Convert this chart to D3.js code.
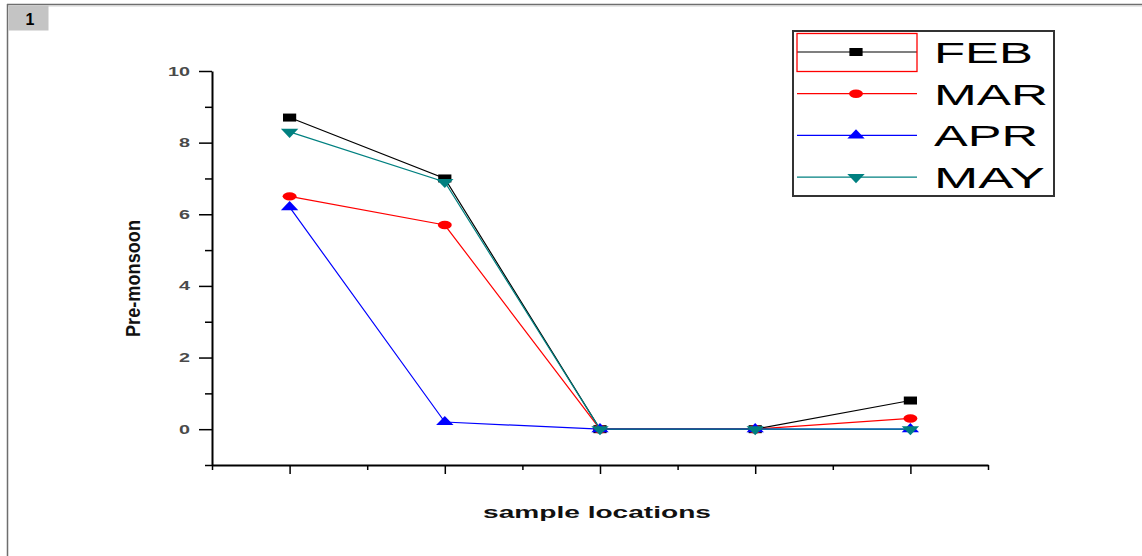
<!DOCTYPE html>
<html>
<head>
<meta charset="utf-8">
<script src="https://cdn.jsdelivr.net/npm/d3@7"></script>
<style>
  html, body { margin: 0; padding: 0; background: #fff; }
  svg { display: block; font-family: Arial, "Liberation Sans", sans-serif; }
</style>
</head>
<body>
<svg id="chart" width="1142" height="556"></svg>
<script>
// Sample locations along the x axis (unlabelled positions)
const locations = [1, 2, 3, 4, 5];

// Monthly pre-monsoon readings per location
const feb = [8.7, 7.0, 0, 0, 0.8];
const mar = [6.5, 5.7, 0, 0, 0.3];
const apr = [6.2, 0.2, 0, 0, 0];
const may = [8.3, 6.9, 0, 0, 0];

const seriesNames = ["FEB", "MAR", "APR", "MAY"];

// Axis ticks
const yMajorTicks = [0, 2, 4, 6, 8, 10];
const yMinorTicks = [-1, 1, 3, 5, 7, 9];
const xMajorTicks = [1, 2, 3, 4, 5];
const xMinorTicks = [0.5, 1.5, 2.5, 3.5, 4.5, 5.5];

const series = [
  { name: seriesNames[0], values: feb, color: "#000000", symbol: d3.symbolSquare, size: 64 },
  { name: seriesNames[1], values: mar, color: "#ff0000", symbol: d3.symbolCircle, size: 56 },
  { name: seriesNames[2], values: apr, color: "#0000ff", symbol: d3.symbolTriangle, size: 48 },
  { name: seriesNames[3], values: may, color: "#008080", symbol: "triangleDown", size: 48 }
];

const svg = d3.select("#chart");

// Page frame and the panel number tab
svg.append("line").attr("x1", 7).attr("x2", 1142).attr("y1", 4.5).attr("y2", 4.5)
  .attr("stroke", "#6e6e6e").attr("stroke-width", 1.5);
svg.append("line").attr("x1", 8).attr("x2", 1142).attr("y1", 6).attr("y2", 6)
  .attr("stroke", "#d0d0d0").attr("stroke-width", 1);
svg.append("line").attr("x1", 7.5).attr("x2", 7.5).attr("y1", 4).attr("y2", 556)
  .attr("stroke", "#6e6e6e").attr("stroke-width", 1.5);
svg.append("rect").attr("x", 8.5).attr("y", 5.5).attr("width", 40).attr("height", 25)
  .attr("fill", "#c4c4c4");
svg.append("text").attr("x", 30).attr("y", 25).attr("text-anchor", "middle")
  .attr("font-size", 16).attr("font-weight", "bold").attr("fill", "#000").text("1");

// Scales
const x = d3.scaleLinear().domain([0.5, 5.5]).range([212, 988]);
const y = d3.scaleLinear().domain([-1, 10]).range([465, 71]);

// Y axis
const yAxisG = svg.append("g").attr("transform", "translate(212,0)");
yAxisG.call(d3.axisLeft(y).tickValues(yMajorTicks).tickSize(13).tickSizeOuter(0).tickPadding(9));
const yMinorG = svg.append("g").attr("transform", "translate(212,0)");
yMinorG.call(d3.axisLeft(y).tickValues(yMinorTicks).tickSize(7).tickSizeOuter(0).tickFormat(""));
yMinorG.select(".domain").remove();

// X axis
const xAxisG = svg.append("g").attr("transform", "translate(0,465)");
xAxisG.call(d3.axisBottom(x).tickValues(xMajorTicks).tickSize(9).tickSizeOuter(0).tickFormat(""));
const xMinorG = svg.append("g").attr("transform", "translate(0,465)");
xMinorG.call(d3.axisBottom(x).tickValues(xMinorTicks).tickSize(5).tickSizeOuter(0).tickFormat(""));
xMinorG.select(".domain").remove();

svg.selectAll(".domain").attr("stroke", "#000").attr("stroke-width", 2);
svg.selectAll(".tick line").attr("stroke", "#000").attr("stroke-width", 1.5);
yAxisG.selectAll(".tick text")
  .attr("font-size", 12.5)
  .attr("font-weight", "bold")
  .attr("fill", "#4a4a4a")
  .attr("font-family", "Arial, 'Liberation Sans', sans-serif")
  .each(function () {
    const t = d3.select(this);
    t.attr("textLength", t.text().length * 11).attr("lengthAdjust", "spacingAndGlyphs");
  });

// Axis titles
svg.append("text")
  .attr("transform", "translate(140,278.5) rotate(-90) scale(1,1.4)")
  .attr("text-anchor", "middle")
  .attr("font-size", 15).attr("font-weight", "bold").attr("fill", "#111")
  .attr("textLength", 117).attr("lengthAdjust", "spacingAndGlyphs")
  .text("Pre-monsoon");
svg.append("text")
  .attr("x", 597).attr("y", 518)
  .attr("text-anchor", "middle")
  .attr("font-size", 16.5).attr("font-weight", "bold").attr("fill", "#111")
  .attr("textLength", 228).attr("lengthAdjust", "spacingAndGlyphs")
  .text("sample locations");

// Marker path builder (markers are drawn slightly wider than tall)
function markerPath(s) {
  if (s.symbol === "triangleDown") {
    return d3.symbol().type(d3.symbolTriangle).size(s.size)();
  }
  return d3.symbol().type(s.symbol).size(s.size)();
}
function markerTransform(s, px, py) {
  const flip = s.symbol === "triangleDown" ? " scale(1,-1)" : "";
  return `translate(${px},${py}) scale(1.65,1)${flip}`;
}

// Lines and markers
const line = d3.line().x((d, i) => x(locations[i])).y(d => y(d));
const plot = svg.append("g");
series.forEach(s => {
  const g = plot.append("g");
  g.append("path").datum(s.values)
    .attr("d", line).attr("fill", "none")
    .attr("stroke", s.color).attr("stroke-width", 1.2);
  g.selectAll("path.marker").data(s.values).enter().append("path")
    .attr("class", "marker")
    .attr("d", markerPath(s))
    .attr("transform", (d, i) => markerTransform(s, x(locations[i]), y(d)))
    .attr("fill", s.color);
});

// Legend
const legend = svg.append("g");
legend.append("rect").attr("x", 793).attr("y", 31).attr("width", 261).attr("height", 165)
  .attr("fill", "#fff").attr("stroke", "#333").attr("stroke-width", 2);
const legendTextWidths = [99, 114, 104, 111];
series.forEach((s, i) => {
  const ly = 52 + i * 41.7;
  legend.append("line").attr("x1", 797).attr("x2", 917).attr("y1", ly).attr("y2", ly)
    .attr("stroke", s.color).attr("stroke-width", 1.2);
  legend.append("path").attr("d", markerPath(s))
    .attr("transform", markerTransform(s, 856, ly)).attr("fill", s.color);
  legend.append("text").attr("x", 934).attr("y", ly + 10.8)
    .attr("font-size", 30).attr("fill", "#000")
    .attr("textLength", legendTextWidths[i]).attr("lengthAdjust", "spacingAndGlyphs")
    .text(s.name);
});
// Highlight box around the first legend sample
legend.append("rect").attr("x", 797).attr("y", 33.5).attr("width", 120).attr("height", 38)
  .attr("fill", "none").attr("stroke", "#ff0000").attr("stroke-width", 1.3);
</script>
</body>
</html>
